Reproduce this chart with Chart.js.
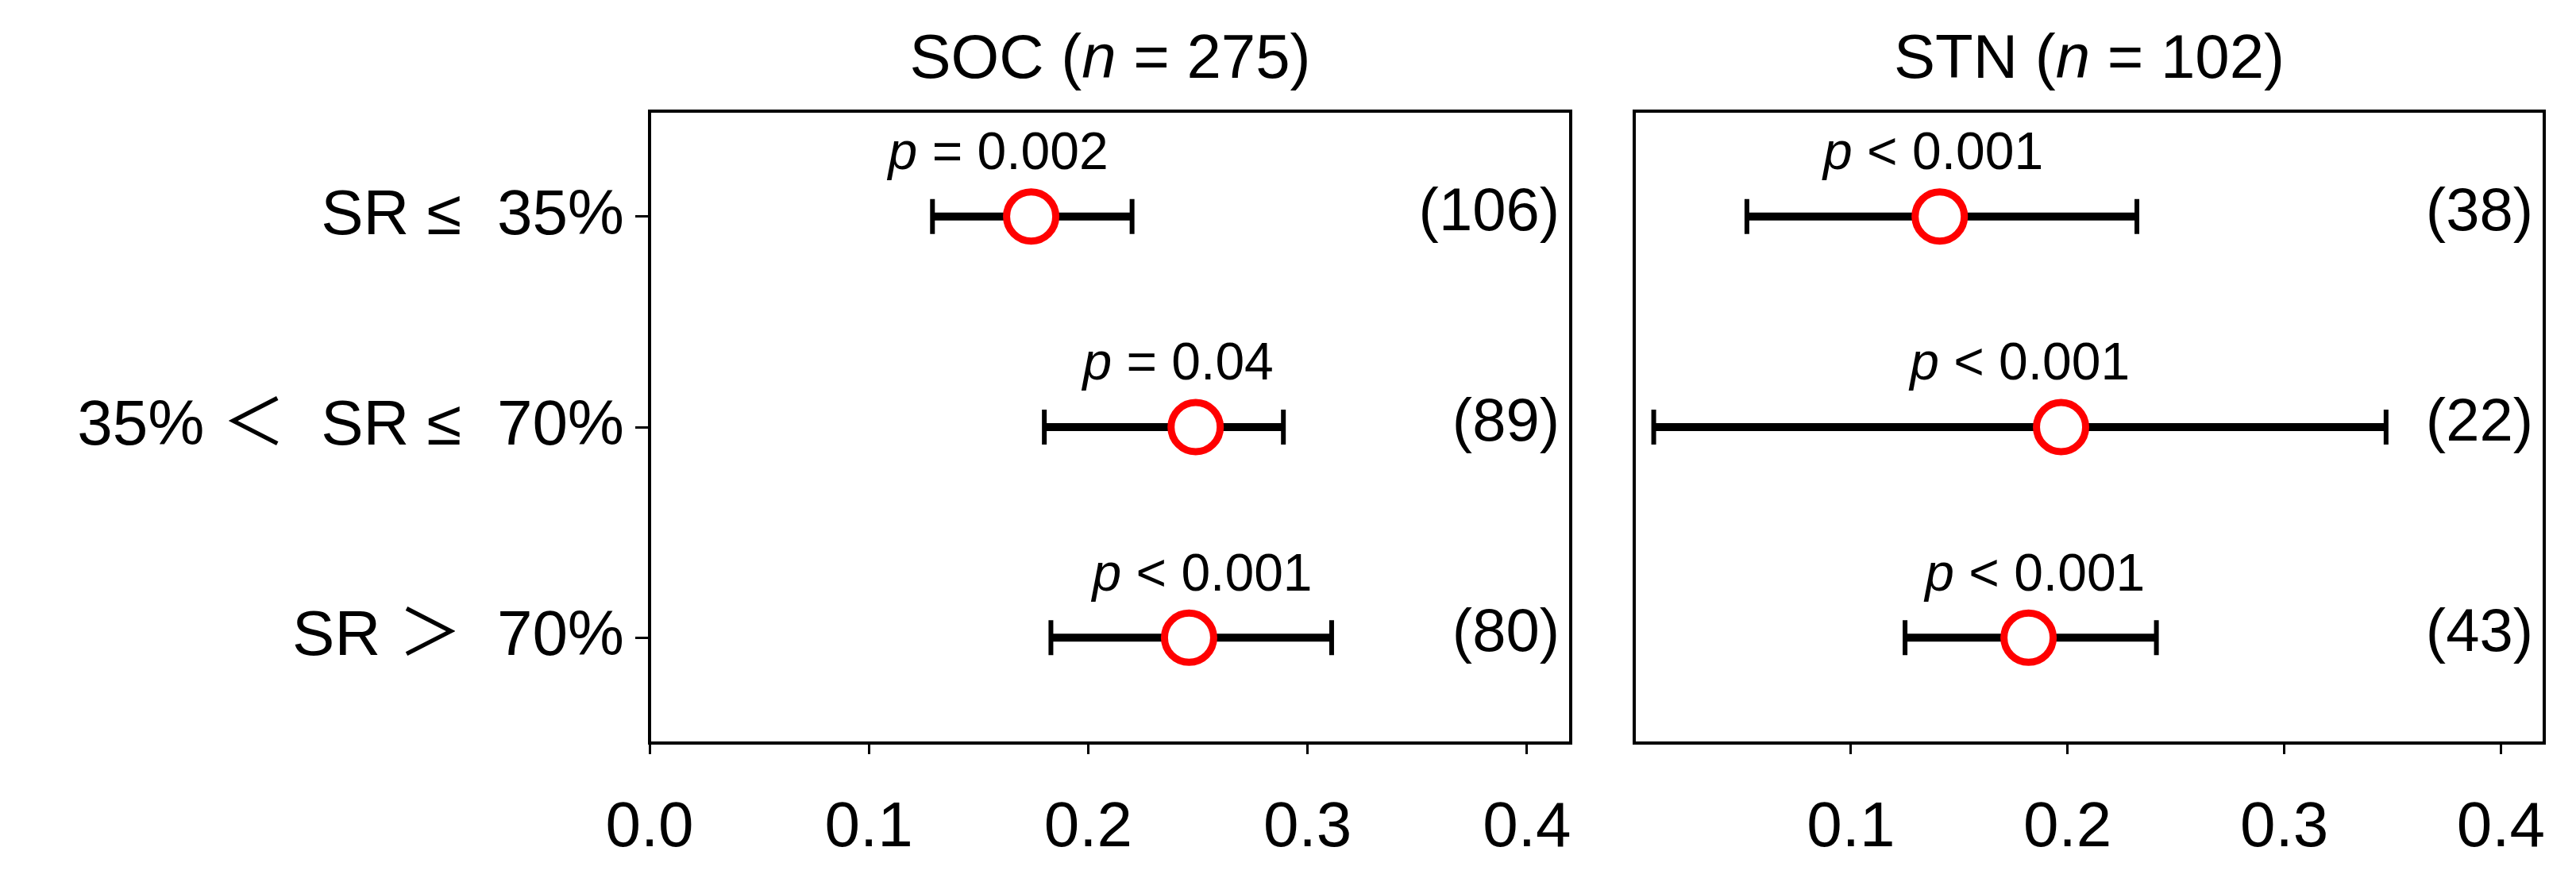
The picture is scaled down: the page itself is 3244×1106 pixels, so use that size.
<!DOCTYPE html>
<html>
<head>
<meta charset="utf-8">
<script src="https://cdn.jsdelivr.net/npm/chart.js@4"></script>
<style>
  body { margin: 0; background: #fff; }
  #wrap { position: relative; width: 3244px; height: 1106px; }
  #left { position: absolute; left: 0; top: 0; width: 2018px; height: 1106px; }
  #right { position: absolute; left: 2018px; top: 0; width: 1226px; height: 1106px; }
</style>
</head>
<body>
<div id="wrap">
  <div id="left"><canvas id="socChart"></canvas></div>
  <div id="right"><canvas id="stnChart"></canvas></div>
</div>
<script>
// rows, top to bottom
const groups = ['SR \u2264  35%', '35% \uFF1C  SR \u2264  70%', 'SR \uFF1E  70%'];
const xTicks = [0.1, 0.2, 0.3, 0.4];

// SOC (n = 275)
const socMean = [0.174, 0.249, 0.246];
const socLow = [0.129, 0.180, 0.183];
const socHigh = [0.220, 0.289, 0.311];
const socP = ['= 0.002', '= 0.04', '< 0.001'];
const socPX = [0.159, 0.241, 0.252];
const socN = ['(106)', '(89)', '(80)'];

// STN (n = 102)
const stnMean = [0.141, 0.197, 0.182];
const stnLow = [0.052, 0.009, 0.125];
const stnHigh = [0.232, 0.347, 0.241];
const stnP = ['< 0.001', '< 0.001', '< 0.001'];
const stnPX = [0.138, 0.178, 0.185];
const stnN = ['(38)', '(22)', '(43)'];

const FONT = "'Liberation Sans', Arial, 'Noto Sans CJK SC', sans-serif";

// draws pieces of text (some italic) centred on x
function drawParts(ctx, parts, x, y, size) {
    let widths = parts.map(p => {
        ctx.font = (p.italic ? 'italic ' : '') + size + 'px ' + FONT;
        return ctx.measureText(p.text).width;
    });
    let cx = x - widths.reduce((a, b) => a + b, 0) / 2;
    ctx.textAlign = 'left';
    ctx.textBaseline = 'middle';
    parts.forEach((p, i) => {
        ctx.font = (p.italic ? 'italic ' : '') + size + 'px ' + FONT;
        ctx.fillText(p.text, cx, y);
        cx += widths[i];
    });
}

function makePlugin(title, low, high, pTxt, pX, nTxt) {
    return {
        id: 'forestExtras',
        beforeDatasetsDraw(chart) {
            const { ctx, scales: { x, y } } = chart;
            ctx.save();
            ctx.strokeStyle = '#000';
            groups.forEach((g, i) => {
                const py = y.getPixelForValue(i);
                const x0 = x.getPixelForValue(low[i]);
                const x1 = x.getPixelForValue(high[i]);
                ctx.lineWidth = 10;
                ctx.beginPath();
                ctx.moveTo(x0, py); ctx.lineTo(x1, py);
                ctx.stroke();
                ctx.lineWidth = 6;
                ctx.beginPath();
                ctx.moveTo(x0, py - 22); ctx.lineTo(x0, py + 22);
                ctx.moveTo(x1, py - 22); ctx.lineTo(x1, py + 22);
                ctx.stroke();
            });
            ctx.restore();
        },
        afterDraw(chart) {
            const { ctx, chartArea: a, scales: { x, y } } = chart;
            ctx.save();
            ctx.strokeStyle = '#000';
            ctx.lineWidth = 4;
            ctx.strokeRect(a.left, a.top, a.right - a.left, a.bottom - a.top);
            ctx.fillStyle = '#000';
            groups.forEach((g, i) => {
                const py = y.getPixelForValue(i);
                drawParts(ctx, [{ text: 'p', italic: true }, { text: ' ' + pTxt[i] }],
                    x.getPixelForValue(pX[i]), py - 78, 66);
                ctx.font = '76px ' + FONT;
                ctx.textAlign = 'right';
                ctx.textBaseline = 'middle';
                ctx.fillText(nTxt[i], a.right - 14, py - 4);
            });
            drawParts(ctx, title, (a.left + a.right) / 2, 76, 78);
            ctx.restore();
        }
    };
}

function buildChart(el, mean, isLeft, plugin) {
    return new Chart(el, {
        type: 'scatter',
        data: {
            labels: groups,
            datasets: [{
                data: mean.map((m, i) => ({ x: m, y: groups[i] })),
                pointRadius: 31,
                pointBorderWidth: 9,
                pointBackgroundColor: '#fff',
                pointBorderColor: '#ff0000'
            }]
        },
        options: {
            responsive: false,
            animation: false,
            layout: { padding: { top: 140, right: isLeft ? 0 : 24 } },
            plugins: { legend: { display: false }, tooltip: { enabled: false } },
            scales: {
                x: {
                    type: 'linear', min: 0, max: 0.42,
                    grid: { display: true, drawOnChartArea: false, drawTicks: true, tickLength: 14, tickWidth: 3, color: '#000' },
                    border: { display: false },
                    afterBuildTicks: s => {
                        s.ticks = (isLeft ? [0].concat(xTicks) : xTicks).map(v => ({ value: v }));
                    },
                    ticks: {
                        autoSkip: false, padding: 46, maxRotation: 0,
                        color: '#000', font: { size: 80, family: FONT },
                        callback: v => v.toFixed(1)
                    },
                    afterFit: s => {
                        s.height = 170;
                        s.paddingLeft = 0;
                        s.paddingRight = 0;
                    }
                },
                y: {
                    type: 'category', labels: groups, offset: true,
                    display: isLeft,
                    grid: { display: true, drawOnChartArea: false, tickLength: 18, tickWidth: 3, color: '#000' },
                    border: { display: false },
                    ticks: { color: '#000', padding: 14, font: { size: 80, family: FONT } },
                    afterFit: s => { s.width = isLeft ? 818 : 0; }
                }
            }
        },
        plugins: [plugin]
    });
}

const socCanvas = document.getElementById('socChart');
socCanvas.width = 2018; socCanvas.height = 1106;
const stnCanvas = document.getElementById('stnChart');
stnCanvas.width = 1226; stnCanvas.height = 1106;

buildChart(socCanvas, socMean, true,
    makePlugin([{ text: 'SOC (' }, { text: 'n', italic: true }, { text: ' = 275)' }],
        socLow, socHigh, socP, socPX, socN));
buildChart(stnCanvas, stnMean, false,
    makePlugin([{ text: 'STN (' }, { text: 'n', italic: true }, { text: ' = 102)' }],
        stnLow, stnHigh, stnP, stnPX, stnN));
</script>
</body>
</html>
